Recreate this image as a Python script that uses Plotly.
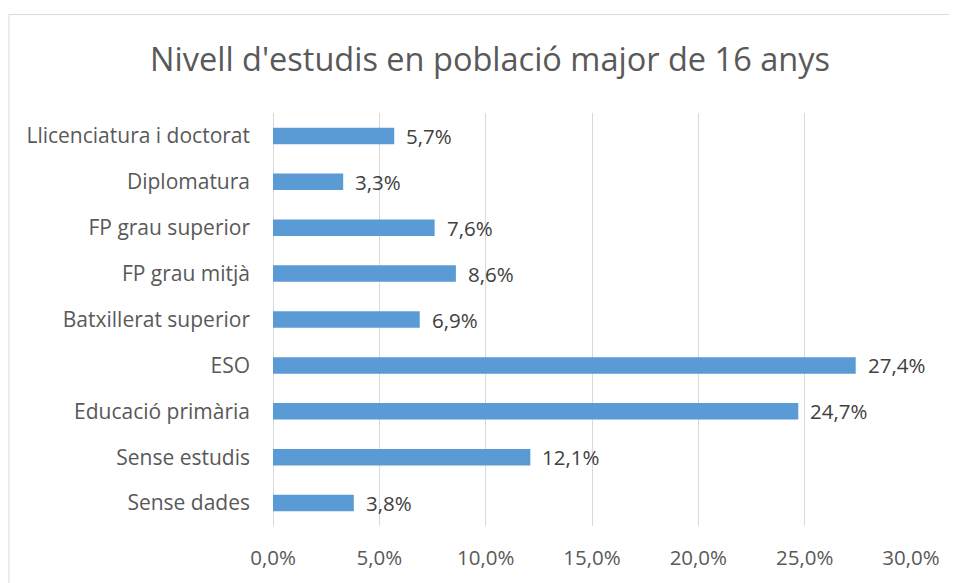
import plotly.graph_objects as go

categories = [
    'Llicenciatura i doctorat', 'Diplomatura', 'FP grau superior', 'FP grau mitjà',
    'Batxillerat superior', 'ESO', 'Educació primària', 'Sense estudis', 'Sense dades',
]
values = [0.057, 0.033, 0.076, 0.086, 0.069, 0.274, 0.247, 0.121, 0.038]
x_ticks = [0, 0.05, 0.10, 0.15, 0.20, 0.25, 0.30]

FONT = 'Open Sans'
TXT = '#595959'
GRID = '#D9D9D9'

# la pàgina té 8 px de marge al body
OFF = 8
W, H = 957 - OFF, 583 - OFF
L, R, T, B = 273 - OFF, 46, 113 - OFF, 55
pw, ph = W - L - R, H - T - B

fig = go.Figure(go.Bar(
    x=values, y=categories, orientation='h',
    marker=dict(color='#5B9BD5', line=dict(width=0)),
    hoverinfo='x+y',
))

# etiquetes de dades
for c, v in zip(categories, values):
    fig.add_annotation(
        x=v, y=c, text=f'{v * 100:.1f}%'.replace('.', ','),
        xanchor='left', xshift=10, showarrow=False,
        font=dict(family=FONT, size=20.5, color='#404040'),
    )

# marc del gràfic
fig.add_shape(
    type='rect', xref='paper', yref='paper',
    x0=(1 - L) / pw, x1=(W + 20 - L) / pw,
    y0=(H - B - (H + 20)) / ph, y1=(H - B - 6) / ph,
    line=dict(color=GRID, width=1), fillcolor='rgba(0,0,0,0)', layer='below',
)

fig.update_layout(
    width=W, height=H,
    margin=dict(l=L, r=R, t=T, b=B),
    paper_bgcolor='white', plot_bgcolor='white',
    separators=',.',
    bargap=0.64,
    showlegend=False,
    font=dict(family=FONT, color=TXT),
    title=dict(
        text="Nivell d'estudis en població major de 16 anys",
        x=(490 - OFF) / W, xref='container', xanchor='center',
        y=1 - (60 - OFF) / H, yref='container', yanchor='middle',
        font=dict(family=FONT, size=32.5, color=TXT),
    ),
    xaxis=dict(
        range=[0, 0.30], tickvals=x_ticks, tickformat='.1%',
        showgrid=True, gridcolor=GRID, gridwidth=1,
        zeroline=True, zerolinecolor=GRID, zerolinewidth=1,
        showline=False, ticks='', ticklabelstandoff=17,
        tickfont=dict(family=FONT, size=20.5, color=TXT),
        fixedrange=True,
    ),
    yaxis=dict(
        autorange='reversed', showgrid=False, zeroline=False, showline=False,
        ticks='', ticklabelstandoff=22,
        tickfont=dict(family=FONT, size=21, color=TXT),
        fixedrange=True,
    ),
)

fig.write_html("out.html")
